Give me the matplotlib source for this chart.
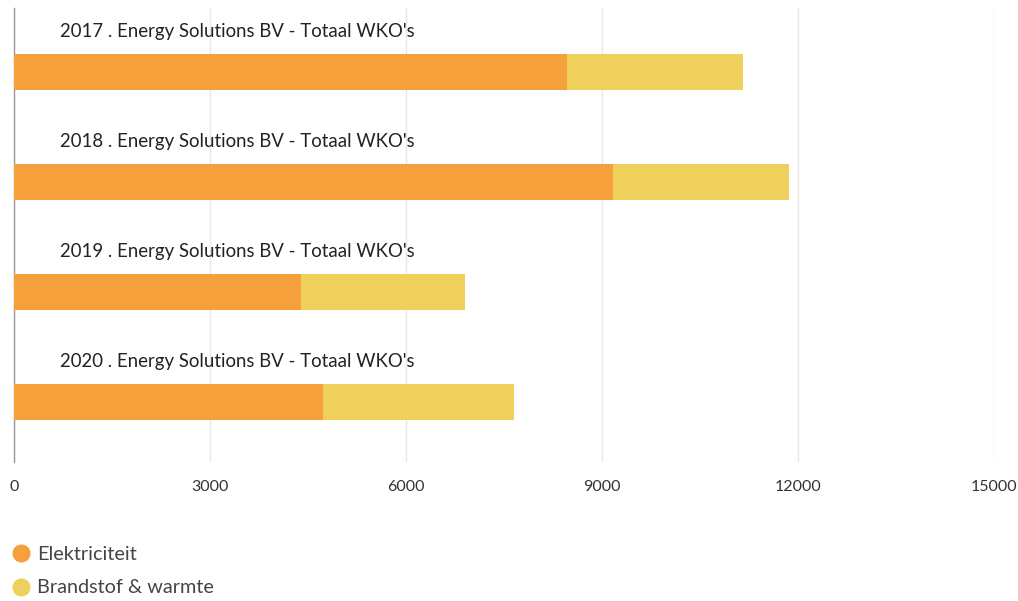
import matplotlib.pyplot as plt
from matplotlib.lines import Line2D
import matplotlib.transforms as mtransforms

# Data
years = ["2017", "2018", "2019", "2020"]
labels = [y + " . Energy Solutions BV - Totaal WKO's" for y in years]
elektriciteit = [8460, 9170, 4390, 4730]
brandstof = [2700, 2690, 2510, 2925]
ticks = [0, 3000, 6000, 9000, 12000, 15000]

orange = "#F5A03A"
yellow = "#EFD05C"

plt.rcParams["font.family"] = ["Lato", "DejaVu Sans"]

fig = plt.figure(figsize=(10.18, 6.01), dpi=100)
ax = fig.add_axes([0.014, 0.231, 0.9627, 0.7555])

pos = list(range(len(years)))
ax.barh(pos, elektriciteit, height=0.33, color=orange, label="Elektriciteit", zorder=3)
ax.barh(pos, brandstof, left=elektriciteit, height=0.33, color=yellow,
        label="Brandstof & warmte", zorder=3)

# category titles above each bar
trans = mtransforms.blended_transform_factory(ax.transAxes, ax.transData)
for p, lab in zip(pos, labels):
    ax.text(0.047, p - 0.37, lab, transform=trans, va="center", ha="left",
            fontsize=13.4, color="#222222")

ax.set_xlim(0, 15000)
ax.set_ylim(3.55, -0.58)
ax.set_xticks(ticks)
ax.set_xticklabels([str(t) for t in ticks], fontsize=11.5, color="#333333")
ax.set_yticks([])
ax.tick_params(axis="x", length=0, pad=13)
ax.grid(axis="x", color="#e8e8e8", linewidth=1, zorder=0)

for s in ["top", "right", "bottom"]:
    ax.spines[s].set_visible(False)
ax.spines["left"].set_color("#999999")
ax.spines["left"].set_linewidth(1)

handles = [
    Line2D([], [], marker="o", linestyle="", markersize=12, color=orange),
    Line2D([], [], marker="o", linestyle="", markersize=12, color=yellow),
]
fig.legend(handles, ["Elektriciteit", "Brandstof & warmte"], loc="upper left",
           bbox_to_anchor=(-0.003, 0.112), frameon=False, fontsize=14.3,
           labelcolor="#444444", handletextpad=0.2, labelspacing=0.85,
           handlelength=1.2, borderaxespad=0.2)

fig.savefig("out.png", dpi=100)
